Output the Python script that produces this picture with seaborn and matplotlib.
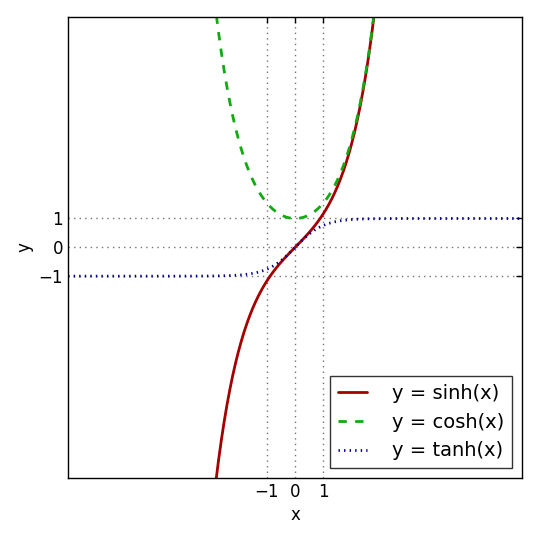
import matplotlib
matplotlib.use('Agg')
import matplotlib.pyplot as plt
import pandas as pd
import seaborn as sns

# Puntos (sinh y cosh, paso 0.1)
x_sc = [-3.0, -2.9, -2.8, -2.7, -2.6, -2.5, -2.4, -2.3, -2.2, -2.1,
        -2.0, -1.9, -1.8, -1.7, -1.6, -1.5, -1.4, -1.3, -1.2, -1.1,
        -1.0, -0.9, -0.8, -0.7, -0.6, -0.5, -0.4, -0.3, -0.2, -0.1,
        0.0, 0.1, 0.2, 0.3, 0.4, 0.5, 0.6, 0.7, 0.8, 0.9,
        1.0, 1.1, 1.2, 1.3, 1.4, 1.5, 1.6, 1.7, 1.8, 1.9,
        2.0, 2.1, 2.2, 2.3, 2.4, 2.5, 2.6, 2.7, 2.8, 2.9, 3.0]
sinh_y = [-10.018, -9.060, -8.192, -7.406, -6.695, -6.050, -5.466, -4.937, -4.457, -4.022,
          -3.627, -3.268, -2.942, -2.646, -2.376, -2.129, -1.904, -1.698, -1.509, -1.336,
          -1.175, -1.027, -0.888, -0.759, -0.637, -0.521, -0.411, -0.305, -0.201, -0.100,
          0.0, 0.100, 0.201, 0.305, 0.411, 0.521, 0.637, 0.759, 0.888, 1.027,
          1.175, 1.336, 1.509, 1.698, 1.904, 2.129, 2.376, 2.646, 2.942, 3.268,
          3.627, 4.022, 4.457, 4.937, 5.466, 6.050, 6.695, 7.406, 8.192, 9.060, 10.018]
cosh_y = [10.068, 9.115, 8.253, 7.473, 6.769, 6.132, 5.557, 5.037, 4.568, 4.144,
          3.762, 3.418, 3.107, 2.828, 2.577, 2.352, 2.151, 1.971, 1.811, 1.669,
          1.543, 1.433, 1.337, 1.255, 1.185, 1.128, 1.081, 1.045, 1.020, 1.005,
          1.0, 1.005, 1.020, 1.045, 1.081, 1.128, 1.185, 1.255, 1.337, 1.433,
          1.543, 1.669, 1.811, 1.971, 2.151, 2.352, 2.577, 2.828, 3.107, 3.418,
          3.762, 4.144, 4.568, 5.037, 5.557, 6.132, 6.769, 7.473, 8.253, 9.115, 10.068]
# tanh
x_t = [-8.0, -5.0, -4.0, -3.5, -3.0, -2.8, -2.6, -2.4, -2.2, -2.0, -1.9, -1.8, -1.7, -1.6,
       -1.5, -1.4, -1.3, -1.2, -1.1, -1.0, -0.9, -0.8, -0.7, -0.6, -0.5, -0.4, -0.3, -0.2, -0.1,
       0.0, 0.1, 0.2, 0.3, 0.4, 0.5, 0.6, 0.7, 0.8, 0.9, 1.0, 1.1, 1.2, 1.3, 1.4,
       1.5, 1.6, 1.7, 1.8, 1.9, 2.0, 2.2, 2.4, 2.6, 2.8, 3.0, 3.5, 4.0, 5.0, 8.0]
tanh_y = [-1.0, -0.9999, -0.9993, -0.9982, -0.9951, -0.9926, -0.9890, -0.9837, -0.9757, -0.9640,
          -0.9562, -0.9468, -0.9354, -0.9217, -0.9051, -0.8854, -0.8617, -0.8337, -0.8005, -0.7616,
          -0.7163, -0.6640, -0.6044, -0.5370, -0.4621, -0.3799, -0.2913, -0.1974, -0.0997,
          0.0, 0.0997, 0.1974, 0.2913, 0.3799, 0.4621, 0.5370, 0.6044, 0.6640, 0.7163, 0.7616,
          0.8005, 0.8337, 0.8617, 0.8854, 0.9051, 0.9217, 0.9354, 0.9468, 0.9562, 0.9640,
          0.9757, 0.9837, 0.9890, 0.9926, 0.9951, 0.9982, 0.9993, 0.9999, 1.0]
ticks = [-1, 0, 1]

df_sc = pd.DataFrame({'x': x_sc, 'sinh': sinh_y, 'cosh': cosh_y})
df_t = pd.DataFrame({'x': x_t, 'tanh': tanh_y})

sns.set_style('white')
plt.rcParams['font.family'] = ['DejaVu Sans']
plt.rcParams['text.color'] = 'black'
plt.rcParams['xtick.color'] = 'black'
plt.rcParams['ytick.color'] = 'black'
plt.rcParams['axes.labelcolor'] = 'black'

fig, ax = plt.subplots(figsize=(5.4, 5.4), dpi=100)
fig.subplots_adjust(left=0.126, right=0.967, top=0.969, bottom=0.115)

sns.lineplot(data=df_sc, x='x', y='sinh', ax=ax, color='#a50000', linewidth=2,
             label='y = sinh(x)', sort=False)
sns.lineplot(data=df_sc, x='x', y='cosh', ax=ax, color='#11aa11', linewidth=2,
             linestyle=(0, (3, 3)), label='y = cosh(x)', sort=False)
sns.lineplot(data=df_t, x='x', y='tanh', ax=ax, color='#000080', linewidth=2,
             linestyle=(0, (0.5, 1.5)), label='y = tanh(x)', sort=False)

ax.set_xlim(-8, 8)
ax.set_ylim(-8, 8)
ax.set_xticks(ticks)
ax.set_yticks(ticks)
ax.set_xticklabels(['\u22121', '0', '1'])
ax.set_yticklabels(['\u22121', '0', '1'])
ax.grid(True, color='0.45', linestyle=(0, (1, 3)), linewidth=1)
ax.tick_params(direction='in', top=True, right=True, length=4, width=1, labelsize=12)
for sp in ax.spines.values():
    sp.set_color('black')
    sp.set_linewidth(1)
ax.set_xlabel('x', fontsize=12)
ax.set_ylabel('y', fontsize=12)

leg = ax.legend(loc='lower right', fontsize=14, frameon=True, fancybox=False,
                edgecolor='black', handlelength=1.5, handletextpad=1.3)
leg.get_frame().set_linewidth(1)

fig.savefig('out.png', dpi=100)
